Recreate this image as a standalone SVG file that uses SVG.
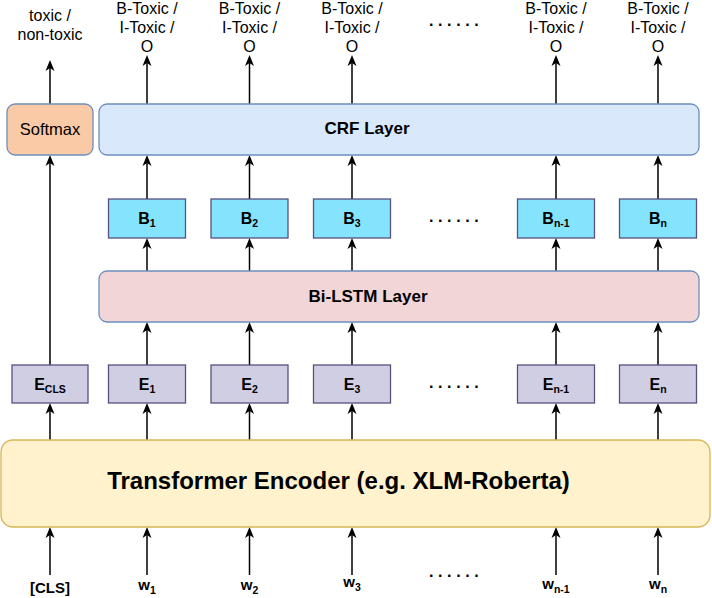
<svg xmlns="http://www.w3.org/2000/svg" width="712" height="598" viewBox="0 0 712 598">
<defs>
<marker id="arr" viewBox="0 0 11 10" refX="7" refY="5" markerWidth="11" markerHeight="10" markerUnits="userSpaceOnUse" orient="auto">
<path d="M0,0.5 L11,5 L0,9.5 L3,5 Z" fill="#000"/>
</marker>
<style>
text{font-family:"Liberation Sans",Arial,Helvetica,sans-serif;fill:#000;}
.lbl{font-size:16px;text-anchor:middle;}
.bold{font-weight:bold;}
.box-e{fill:#d0cee2;stroke:#56517e;stroke-width:1.3;}
.box-b{fill:#84e4fd;stroke:#56517e;stroke-width:1.3;}
.layer{stroke:#6c8ebf;stroke-width:1.3;}
.con line{stroke:#000;stroke-width:1.5;marker-end:url(#arr);}
.con line.plain{marker-end:none;}
.node{font-size:16px;font-weight:bold;text-anchor:middle;}
.sub{font-size:10.5px;}
.dots{font-size:16px;font-weight:bold;letter-spacing:4.6px;}
</style>
</defs>
<rect width="712" height="598" fill="#fff"/>

<!-- Output labels -->
<g id="out-labels" class="lbl">
<text x="50" y="21">toxic /</text>
<text x="50" y="40">non-toxic</text>
<g id="out-1"><text x="147" y="14">B-Toxic /</text><text x="147" y="33">I-Toxic /</text><text x="147" y="52">O</text></g>
<g id="out-2"><text x="249.5" y="14">B-Toxic /</text><text x="249.5" y="33">I-Toxic /</text><text x="249.5" y="52">O</text></g>
<g id="out-3"><text x="352" y="14">B-Toxic /</text><text x="352" y="33">I-Toxic /</text><text x="352" y="52">O</text></g>
<g id="out-n1"><text x="556" y="14">B-Toxic /</text><text x="556" y="33">I-Toxic /</text><text x="556" y="52">O</text></g>
<g id="out-n"><text x="658" y="14">B-Toxic /</text><text x="658" y="33">I-Toxic /</text><text x="658" y="52">O</text></g>
</g>
<text class="dots" x="429" y="26">......</text>

<!-- Connectors -->
<g id="connectors" class="con">
<line x1="50" y1="104" x2="50" y2="64"/>
<line x1="50" y1="365" x2="50" y2="159"/>
<line x1="50" y1="440" x2="50" y2="407"/>
<line x1="50" y1="575" x2="50" y2="531"/>

<line x1="147" y1="104" x2="147" y2="59"/>
<line x1="147" y1="199" x2="147" y2="159"/>
<line x1="147" y1="271" x2="147" y2="242"/>
<line x1="147" y1="365" x2="147" y2="326"/>
<line x1="147" y1="440" x2="147" y2="407"/>
<line x1="147" y1="575" x2="147" y2="531"/>

<line x1="249.5" y1="104" x2="249.5" y2="59"/>
<line x1="249.5" y1="199" x2="249.5" y2="159"/>
<line x1="249.5" y1="271" x2="249.5" y2="242"/>
<line x1="249.5" y1="365" x2="249.5" y2="326"/>
<line x1="249.5" y1="440" x2="249.5" y2="407"/>
<line x1="249.5" y1="575" x2="249.5" y2="531"/>

<line x1="352" y1="104" x2="352" y2="59"/>
<line x1="352" y1="199" x2="352" y2="159"/>
<line x1="352" y1="271" x2="352" y2="242"/>
<line x1="352" y1="365" x2="352" y2="326"/>
<line x1="352" y1="440" x2="352" y2="407"/>
<line x1="352" y1="575" x2="352" y2="531"/>

<line x1="556" y1="104" x2="556" y2="59"/>
<line x1="556" y1="199" x2="556" y2="159"/>
<line x1="556" y1="271" x2="556" y2="242"/>
<line x1="556" y1="365" x2="556" y2="326"/>
<line x1="556" y1="440" x2="556" y2="407"/>
<line x1="556" y1="575" x2="556" y2="531"/>

<line x1="658" y1="104" x2="658" y2="59"/>
<line x1="658" y1="199" x2="658" y2="159"/>
<line x1="658" y1="271" x2="658" y2="242"/>
<line x1="658" y1="365" x2="658" y2="326"/>
<line x1="658" y1="440" x2="658" y2="407"/>
<line x1="658" y1="575" x2="658" y2="531"/>
</g>

<!-- Layers -->
<g id="softmax">
<rect class="layer" x="7" y="104" width="86" height="51" rx="8" fill="#facaa6"/>
<text x="50" y="135" style="font-size:16.5px;text-anchor:middle">Softmax</text>
</g>
<g id="crf">
<rect class="layer" x="99" y="104" width="600" height="51" rx="8" fill="#dae8fc"/>
<text x="367" y="134" style="font-size:17px;font-weight:bold;text-anchor:middle">CRF Layer</text>
</g>
<g id="bilstm">
<rect class="layer" x="99" y="271" width="600" height="51" rx="8" fill="#f2d6d7"/>
<text x="368" y="302" style="font-size:17px;font-weight:bold;text-anchor:middle">Bi-LSTM Layer</text>
</g>
<g id="transformer">
<rect x="1" y="440" width="709" height="87" rx="12" fill="#fff2cc" stroke="#d6b656" stroke-width="1.3"/>
<text x="338.5" y="489" style="font-size:24px;font-weight:bold;text-anchor:middle">Transformer Encoder (e.g. XLM-Roberta)</text>
</g>

<!-- B boxes -->
<g id="b1"><rect class="box-b" x="108.5" y="199" width="77" height="39"/><text class="node" x="147" y="224">B<tspan class="sub" dy="3">1</tspan></text></g>
<g id="b2"><rect class="box-b" x="211" y="199" width="77" height="39"/><text class="node" x="249.5" y="224">B<tspan class="sub" dy="3">2</tspan></text></g>
<g id="b3"><rect class="box-b" x="313.5" y="199" width="77" height="39"/><text class="node" x="352" y="224">B<tspan class="sub" dy="3">3</tspan></text></g>
<g id="bn1"><rect class="box-b" x="517.5" y="199" width="77" height="39"/><text class="node" x="556" y="224">B<tspan class="sub" dy="3">n-1</tspan></text></g>
<g id="bn"><rect class="box-b" x="619.5" y="199" width="77" height="39"/><text class="node" x="658" y="224">B<tspan class="sub" dy="3">n</tspan></text></g>
<text class="dots" x="429" y="222">......</text>

<!-- E boxes -->
<g id="ecls"><rect class="box-e" x="12" y="365" width="76" height="38"/><text class="node" x="50" y="390">E<tspan class="sub" dy="3">CLS</tspan></text></g>
<g id="e1"><rect class="box-e" x="108.5" y="365" width="77" height="38"/><text class="node" x="147" y="390">E<tspan class="sub" dy="3">1</tspan></text></g>
<g id="e2"><rect class="box-e" x="211" y="365" width="77" height="38"/><text class="node" x="249.5" y="390">E<tspan class="sub" dy="3">2</tspan></text></g>
<g id="e3"><rect class="box-e" x="313.5" y="365" width="77" height="38"/><text class="node" x="352" y="390">E<tspan class="sub" dy="3">3</tspan></text></g>
<g id="en1"><rect class="box-e" x="517.5" y="365" width="77" height="38"/><text class="node" x="556" y="390">E<tspan class="sub" dy="3">n-1</tspan></text></g>
<g id="en"><rect class="box-e" x="619.5" y="365" width="77" height="38"/><text class="node" x="658" y="390">E<tspan class="sub" dy="3">n</tspan></text></g>
<text class="dots" x="429" y="388">......</text>

<!-- Inputs -->
<g id="inputs" class="node" style="font-size:15px">
<text x="50" y="593">[CLS]</text>
<text x="147" y="590">w<tspan class="sub" dy="4">1</tspan></text>
<text x="249.5" y="590">w<tspan class="sub" dy="4">2</tspan></text>
<text x="352" y="587">w<tspan class="sub" dy="4">3</tspan></text>
<text x="556" y="589">w<tspan class="sub" dy="4">n-1</tspan></text>
<text x="658" y="589">w<tspan class="sub" dy="4">n</tspan></text>
</g>
<text class="dots" x="429" y="577">......</text>
</svg>
